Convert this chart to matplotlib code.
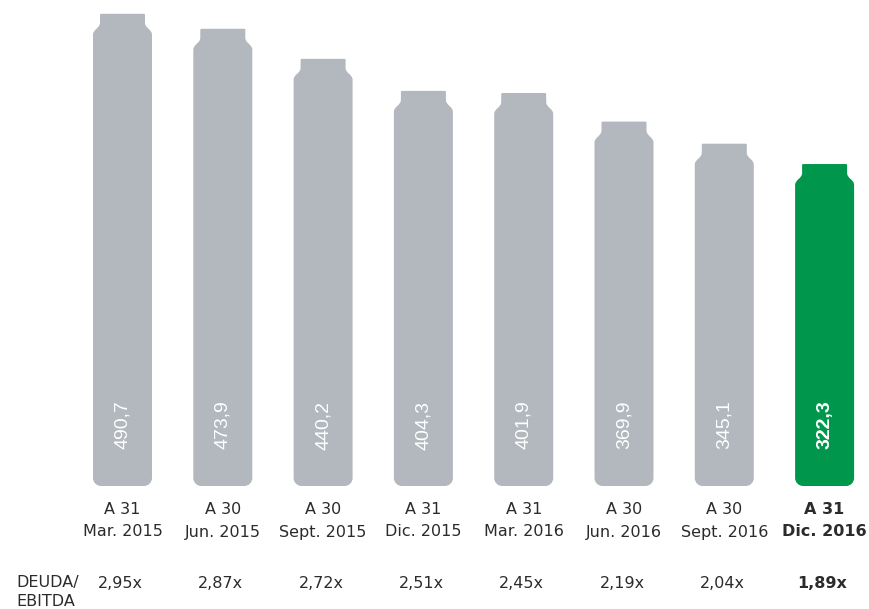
import matplotlib
matplotlib.use("Agg")
import matplotlib.pyplot as plt
from matplotlib.path import Path
from matplotlib.patches import PathPatch

# ---- data ----
values = [490.7, 473.9, 440.2, 404.3, 401.9, 369.9, 345.1, 322.3]
value_labels = ["490,7", "473,9", "440,2", "404,3", "401,9", "369,9", "345,1", "322,3"]
line1 = ["A 31", "A 30", "A 30", "A 31", "A 31", "A 30", "A 30", "A 31"]
line2 = ["Mar. 2015", "Jun. 2015", "Sept. 2015", "Dic. 2015", "Mar. 2016",
         "Jun. 2016", "Sept. 2016", "Dic. 2016"]
ratios = ["2,95x", "2,87x", "2,72x", "2,51x", "2,45x", "2,19x", "2,04x", "1,89x"]
row_label = "DEUDA/\nEBITDA"

GRAY = "#B2B8BE"
GREEN = "#00964B"
TEXT = "#2b2b2b"

W, H = 870, 609
fig = plt.figure(figsize=(W / 100, H / 100), dpi=100)
ax = fig.add_axes([0, 0, 1, 1])

# scales: pixel mapping
px_per_x = 100.3
x0_px = 122.5
px_per_v = 0.8922
y0_px = 451.6  # pixel (from top) of value 0
ax.set_xlim((0 - x0_px) / px_per_x, (W - x0_px) / px_per_x)
ax.set_ylim((y0_px - H) / px_per_v, y0_px / px_per_v)
ax.axis("off")

dx = 1 / px_per_x   # data units per pixel (x)
dy = 1 / px_per_v   # data units per pixel (y)
base = (y0_px - 486) / px_per_v  # baseline of bars


def bottle(cx, top, bottom):
    hw = 29.5 * dx    # half width
    nw = 22.5 * dx    # neck half width
    rt = 2            # top corner radius px
    neck = 9 * dy
    sh = 12 * dy
    rb = 8            # bottom corner radius px
    k = 0.5523
    verts = [
        (cx - nw + rt * dx, top),
        (cx + nw - rt * dx, top),
        (cx + nw, top), (cx + nw, top), (cx + nw, top - rt * dy),
        (cx + nw, top - neck),
        (cx + nw, top - neck - sh * 0.45), (cx + hw, top - neck - sh * 0.55), (cx + hw, top - neck - sh),
        (cx + hw, bottom + rb * dy),
        (cx + hw, bottom + rb * dy * (1 - k)), (cx + hw - rb * dx * (1 - k), bottom), (cx + hw - rb * dx, bottom),
        (cx - hw + rb * dx, bottom),
        (cx - hw + rb * dx * (1 - k), bottom), (cx - hw, bottom + rb * dy * (1 - k)), (cx - hw, bottom + rb * dy),
        (cx - hw, top - neck - sh),
        (cx - hw, top - neck - sh * 0.55), (cx - nw, top - neck - sh * 0.45), (cx - nw, top - neck),
        (cx - nw, top - rt * dy),
        (cx - nw, top), (cx - nw, top), (cx - nw + rt * dx, top),
        (cx - nw + rt * dx, top),
    ]
    codes = [Path.MOVETO, Path.LINETO,
             Path.CURVE4, Path.CURVE4, Path.CURVE4,
             Path.LINETO,
             Path.CURVE4, Path.CURVE4, Path.CURVE4,
             Path.LINETO,
             Path.CURVE4, Path.CURVE4, Path.CURVE4,
             Path.LINETO,
             Path.CURVE4, Path.CURVE4, Path.CURVE4,
             Path.LINETO,
             Path.CURVE4, Path.CURVE4, Path.CURVE4,
             Path.LINETO,
             Path.CURVE4, Path.CURVE4, Path.CURVE4,
             Path.CLOSEPOLY]
    return Path(verts, codes)


n = len(values)
label_y = (y0_px - 425) / px_per_v
cat1_y = (y0_px - 509.5) / px_per_v
cat2_y = (y0_px - 532) / px_per_v
ratio_y = (y0_px - 583) / px_per_v

for i, v in enumerate(values):
    last = i == n - 1
    color = GREEN if last else GRAY
    ax.add_patch(PathPatch(bottle(i, v, base), facecolor=color, edgecolor="none"))
    ax.text(i, label_y, value_labels[i], rotation=90, ha="center", va="center",
            color="white", fontsize=14, family=["Liberation Sans", "DejaVu Sans"],
            fontweight="bold" if last else "normal", fontstyle="normal")
    fw = "bold" if last else "normal"
    ax.text(i, cat1_y, line1[i], ha="center", va="center", color=TEXT,
            fontsize=11.5, fontweight=fw)
    ax.text(i, cat2_y, line2[i], ha="center", va="center", color=TEXT,
            fontsize=11.5, fontweight=fw)
    ax.text(i - 0.02, ratio_y, ratios[i], ha="center", va="center", color=TEXT,
            fontsize=11.5, fontweight=fw)

ax.text((16 - x0_px) / px_per_x, (y0_px - 592) / px_per_v, row_label,
        ha="left", va="center", color=TEXT, fontsize=11.5, linespacing=1.3)

fig.savefig("out.png", dpi=100)
